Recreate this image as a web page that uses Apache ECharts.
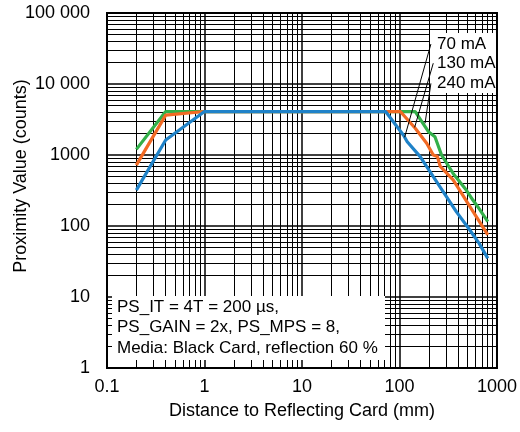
<!DOCTYPE html>
<html>
<head>
<meta charset="utf-8">
<script src="https://cdn.jsdelivr.net/npm/echarts@6/dist/echarts.min.js"></script>
<style>
  html, body { margin: 0; padding: 0; background: #fff; }
  #chart { width: 520px; height: 432px; }
</style>
</head>
<body>
<div id="chart"></div>
<script>
// curves: [distance (mm), proximity counts]
const curve70mA = [[0.2, 320], [0.4, 1630], [1, 4095], [72, 4095], [110, 1900], [120, 1540], [163, 950],
  [222, 495], [303, 260], [384, 158], [520, 90], [656, 57], [805, 35]]
const curve130mA = [[0.2, 720], [0.4, 3650], [1, 4095], [102, 4095], [145, 2380], [190, 1460], [222, 1000],
  [245, 950], [262, 690], [355, 445], [414, 321], [524, 190], [661, 115], [805, 75]]
const curve240mA = [[0.2, 1200], [0.4, 4095], [145, 4095], [198, 2130], [231, 1810], [270, 1000],
  [355, 550], [484, 321], [566, 232], [635, 187], [805, 115]]

const seriesNames = ['70 mA', '130 mA', '240 mA']
const seriesColors = ['#1f82c8', '#f26a24', '#33b04a']

// tick labels, one per decade
const xTickLabels = ['0.1', '1', '10', '100', '1000']
const yTickLabels = ['1', '10', '100', '1000', '10 000', '100 000']

// minor grid: 2..9 inside each decade
const minorSteps = [2, 3, 4, 5, 6, 7, 8, 9]
const xDecades = [0.1, 1, 10, 100]
const yDecades = [1, 10, 100, 1000, 10000]

// leader lines from the labels down to the curves, [from, to]
const leaderLines = [
  [[210, 36500], [113, 1780]],
  [[222, 19600], [143, 2450]],
  [[210, 10200], [183, 2800]]
]

const noteLines = ['PS_IT = 4T = 200 µs,', 'PS_GAIN = 2x, PS_MPS = 8,', 'Media: Black Card, reflection 60 %']

const FONT = 'Liberation Sans, Arial, sans-serif'

function decadeIndex (v) {
  return Math.round(Math.log10(v))
}

let gridLines = []
xDecades.forEach(d => minorSteps.forEach(s => gridLines.push({ xAxis: +(d * s).toPrecision(3) })))
yDecades.forEach(d => minorSteps.forEach(s => gridLines.push({ yAxis: d * s })))

let chart = echarts.init(document.getElementById('chart'))

let curveSeries = [curve240mA, curve130mA, curve70mA].map((data, i) => {
  let k = 2 - i
  return {
    name: seriesNames[k],
    type: 'line',
    data: data,
    showSymbol: false,
    symbol: 'none',
    z: 6,
    lineStyle: { color: seriesColors[k], width: 3.2 },
    itemStyle: { color: seriesColors[k] }
  }
})

chart.setOption({
  animation: false,
  grid: {
    left: 107, right: 19, top: 13, bottom: 64,
    show: true, borderColor: '#000', borderWidth: 2, backgroundColor: 'transparent'
  },
  xAxis: {
    type: 'log',
    logBase: 10,
    min: 0.1,
    max: 1000,
    name: 'Distance to Reflecting Card (mm)',
    nameLocation: 'middle',
    nameGap: 34,
    nameTextStyle: { fontFamily: FONT, fontSize: 18, color: '#000' },
    axisLine: { show: false },
    axisTick: { show: false },
    axisLabel: {
      fontFamily: FONT, fontSize: 18, color: '#000', margin: 10,
      formatter: v => xTickLabels[decadeIndex(v) + 1]
    },
    splitLine: { show: true, lineStyle: { color: '#000', width: 1.5 } }
  },
  yAxis: {
    type: 'log',
    logBase: 10,
    min: 1,
    max: 100000,
    axisLine: { show: false },
    axisTick: { show: false },
    axisLabel: {
      fontFamily: FONT, fontSize: 18, color: '#000', margin: 17,
      formatter: v => yTickLabels[decadeIndex(v)]
    },
    splitLine: { show: true, lineStyle: { color: '#000', width: 1.5 } }
  },
  graphic: [
    {
      type: 'text', x: 21, y: 176, rotation: Math.PI / 2,
      style: { text: 'Proximity Value (counts)', font: '18px ' + FONT, fill: '#000', align: 'center', verticalAlign: 'middle' }
    },
    { type: 'rect', z: 4, shape: { x: 112, y: 296, width: 273, height: 64 }, style: { fill: '#fff' } },
    ...noteLines.map((t, i) => ({
      type: 'text', z: 5, x: 117, y: 307 + i * 20.5,
      style: { text: t, font: '17px ' + FONT, fill: '#000', align: 'left', verticalAlign: 'middle' }
    })),
    { type: 'rect', z: 4, shape: { x: 430, y: 33, width: 66, height: 60 }, style: { fill: '#fff' } },
    ...seriesNames.map((t, i) => ({
      type: 'text', z: 5, x: 437, y: 44 + i * 19.5,
      style: { text: t, font: '17px ' + FONT, fill: '#000', align: 'left', verticalAlign: 'middle' }
    }))
  ],
  series: [
    {
      // minor grid lines
      type: 'line',
      data: [],
      silent: true,
      markLine: {
        silent: true,
        z: 1,
        symbol: ['none', 'none'],
        label: { show: false },
        lineStyle: { color: '#000', width: 1, type: 'solid' },
        data: gridLines
      }
    },
    ...curveSeries,
    {
      // label leader lines
      type: 'line',
      data: [],
      silent: true,
      markLine: {
        silent: true,
        z: 7,
        symbol: ['none', 'none'],
        label: { show: false },
        lineStyle: { color: '#000', width: 1, type: 'solid' },
        data: leaderLines.map(l => [{ coord: l[0] }, { coord: l[1] }])
      }
    }
  ]
})
</script>
</body>
</html>
